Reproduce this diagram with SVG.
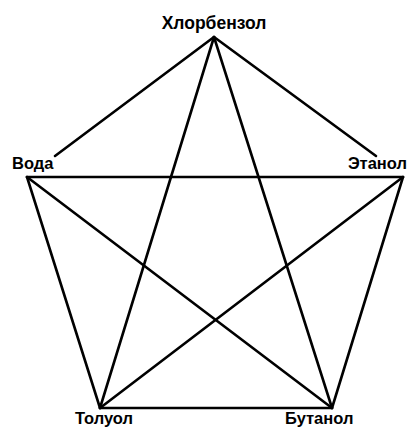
<svg xmlns="http://www.w3.org/2000/svg" width="407" height="428" viewBox="0 0 407 428">
<style>
.lbl{font-family:"Liberation Sans",Arial,sans-serif;font-weight:bold;font-size:16.5px;fill:#000}
.e{stroke:#000;stroke-width:2.6;fill:none;stroke-linecap:round}
</style>
<rect width="407" height="428" fill="#fff"/>
<g id="edges">
<line class="e" x1="214" y1="37" x2="55" y2="156"/>
<line class="e" x1="214" y1="37" x2="376" y2="156"/>
<line class="e" x1="214" y1="37" x2="100" y2="408"/>
<line class="e" x1="214" y1="37" x2="332" y2="408"/>
<line class="e" x1="27" y1="177" x2="403" y2="177"/>
<line class="e" x1="27" y1="177" x2="100" y2="408"/>
<line class="e" x1="27" y1="177" x2="332" y2="408"/>
<line class="e" x1="403" y1="177" x2="100" y2="408"/>
<line class="e" x1="403" y1="177" x2="332" y2="408"/>
<line class="e" x1="100" y1="408" x2="332" y2="408"/>
</g>
<g id="chlorobenzene"><text class="lbl" x="214" y="29" text-anchor="middle" style="font-size:17.5px">Хлорбензол</text></g>
<g id="water"><text class="lbl" x="12" y="169">Вода</text></g>
<g id="ethanol"><text class="lbl" x="407" y="169" text-anchor="end">Этанол</text></g>
<g id="toluene"><text class="lbl" x="75" y="424">Толуол</text></g>
<g id="butanol"><text class="lbl" x="285" y="424">Бутанол</text></g>
</svg>
